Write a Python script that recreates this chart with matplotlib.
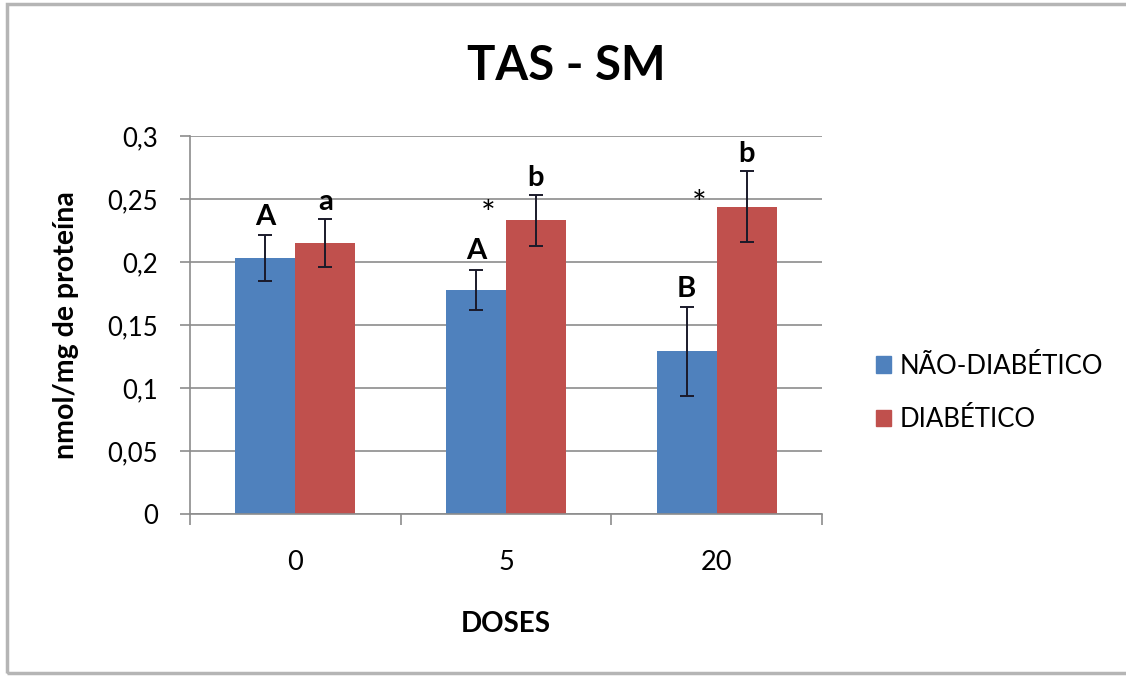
import matplotlib
matplotlib.use('Agg')
import matplotlib.pyplot as plt
from matplotlib.patches import Patch, Rectangle
import numpy as np

plt.rcParams['font.family'] = ['Lato', 'DejaVu Sans']

doses = ["0", "5", "20"]
nao_diab = [0.203, 0.178, 0.129]
nao_diab_err = [0.018, 0.016, 0.035]
diab = [0.215, 0.233, 0.244]
diab_err = [0.019, 0.020, 0.028]
nao_letters = ["A", "A", "B"]
diab_letters = ["a", "b", "b"]
# asterisks (significant vs. não-diabético), dose index and height
star_groups = [1, 2]
star_y = [0.244, 0.252]

blue = '#4F81BD'
red = '#C0504D'
grid_c = '#8c8c8c'

fig = plt.figure(figsize=(11.26, 6.77), dpi=100)
fig.patch.set_facecolor('white')
fig.add_artist(Rectangle((0.006, 0.006), 1.2, 0.988, transform=fig.transFigure,
                         fill=False, edgecolor='#b5b5b5', linewidth=2.5))

ax = fig.add_axes([0.1687, 0.2408, 0.5613, 0.5584])
x = np.arange(len(doses))
w = 0.285
ax.bar(x - w / 2, nao_diab, w, color=blue, zorder=2, label='NÃO-DIABÉTICO')
ax.bar(x + w / 2, diab, w, color=red, zorder=2, label='DIABÉTICO')
ax.errorbar(x - w / 2, nao_diab, yerr=nao_diab_err, fmt='none', ecolor='#1a1a2a',
            elinewidth=1.4, capsize=5, capthick=1.4, zorder=3)
ax.errorbar(x + w / 2, diab, yerr=diab_err, fmt='none', ecolor='#1a1a2a',
            elinewidth=1.4, capsize=5, capthick=1.4, zorder=3)

for i in range(len(doses)):
    ax.text(x[i] - w / 2, nao_diab[i] + nao_diab_err[i] + 0.004, nao_letters[i],
            ha='center', va='bottom', fontsize=21, fontweight='bold')
    ax.text(x[i] + w / 2, diab[i] + diab_err[i] + 0.003, diab_letters[i],
            ha='center', va='bottom', fontsize=21, fontweight='bold')
for i, sy in zip(star_groups, star_y):
    ax.text(x[i] - w / 2 + 0.06, sy - 0.015, '*',
            ha='center', va='baseline', fontsize=25)

ax.set_xlim(-0.5, 2.5)
ax.set_ylim(0, 0.3)
ax.set_yticks(np.arange(0, 0.31, 0.05))
ax.set_yticklabels(['0', '0,05', '0,1', '0,15', '0,2', '0,25', '0,3'])
ax.set_xticks(x)
ax.set_xticklabels(doses)
ax.set_xticks([-0.5, 0.5, 1.5, 2.5], minor=True)
ax.tick_params(axis='x', which='major', length=0, pad=26, labelsize=19.5)
ax.tick_params(axis='x', which='minor', length=8, color=grid_c, width=1.2)
ax.tick_params(axis='y', length=7, color=grid_c, width=1.2, labelsize=18.5, pad=16)
ax.yaxis.grid(True, color=grid_c, linewidth=1.2, zorder=0)
ax.set_axisbelow(True)
for s in ['top', 'right']:
    ax.spines[s].set_visible(False)
for s in ['left', 'bottom']:
    ax.spines[s].set_color(grid_c)
    ax.spines[s].set_linewidth(1.2)

ax.set_ylabel('nmol/mg de proteína', fontsize=20.5, fontweight='bold', labelpad=20)
ax.set_xlabel('DOSES', fontsize=20, fontweight='bold', labelpad=26)
fig.text(0.503, 0.902, 'TAS - SM', ha='center', va='center', fontsize=34, fontweight='bold')

handles = [Patch(color=blue), Patch(color=red)]
fig.legend(handles, ['NÃO-DIABÉTICO', 'DIABÉTICO'], loc='center left',
           bbox_to_anchor=(0.757, 0.42), frameon=False, fontsize=18.5,
           handlelength=0.6, handleheight=0.6, handletextpad=0.35, labelspacing=1.1)

fig.savefig('out.png', dpi=100, facecolor='white')
